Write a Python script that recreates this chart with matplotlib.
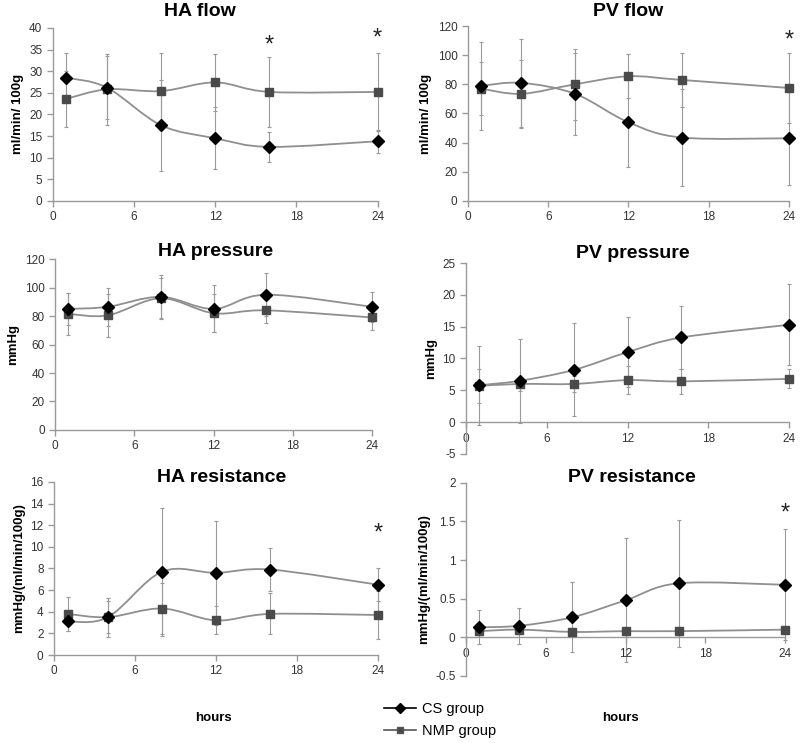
import matplotlib
matplotlib.use("Agg")
import matplotlib.pyplot as plt
import numpy as np
from matplotlib.path import Path
from matplotlib.patches import PathPatch
from matplotlib.lines import Line2D

plt.rcParams["font.family"] = ["Liberation Sans", "DejaVu Sans"]

hours = [1, 4, 8, 12, 16, 24]

ha_flow_cs = [28.5, 26.2, 17.5, 14.5, 12.5, 13.8]
ha_flow_cs_sd = [5.7, 7.3, 10.5, 7.2, 3.5, 2.6]
ha_flow_nmp = [23.6, 25.8, 25.4, 27.4, 25.2, 25.2]
ha_flow_nmp_sd = [6.4, 8.2, 8.9, 6.6, 8.0, 9.1]

pv_flow_cs = [79, 81, 73.5, 54, 43.5, 43]
pv_flow_cs_sd = [30, 30, 28, 31, 33, 32]
pv_flow_nmp = [77, 73.5, 80, 85.5, 83, 77.5]
pv_flow_nmp_sd = [18, 23.5, 24.5, 15, 18.5, 24]

ha_pres_cs = [85, 86.5, 93.5, 85, 95, 86.5]
ha_pres_cs_sd = [11, 13.5, 15.5, 16.5, 15, 10.5]
ha_pres_nmp = [81.5, 80.5, 92.5, 82, 84, 79]
ha_pres_nmp_sd = [14.5, 15, 14, 13.5, 9, 9]

pv_pres_cs = [5.8, 6.5, 8.2, 11, 13.3, 15.3]
pv_pres_cs_sd = [6.2, 6.6, 7.3, 5.5, 5.0, 6.4]
pv_pres_nmp = [5.7, 6.0, 6.0, 6.6, 6.4, 6.8]
pv_pres_nmp_sd = [2.7, 1.1, 1.3, 2.2, 1.9, 1.5]

ha_res_cs = [3.1, 3.5, 7.7, 7.6, 7.9, 6.5]
ha_res_cs_sd = [0.9, 1.5, 5.9, 4.8, 2.0, 1.5]
ha_res_nmp = [3.8, 3.5, 4.3, 3.2, 3.8, 3.7]
ha_res_nmp_sd = [1.6, 1.8, 2.4, 1.3, 1.9, 2.2]

pv_res_cs = [0.13, 0.15, 0.26, 0.48, 0.70, 0.68]
pv_res_cs_sd = [0.22, 0.23, 0.45, 0.80, 0.82, 0.72]
pv_res_nmp = [0.08, 0.10, 0.07, 0.08, 0.08, 0.10]
pv_res_nmp_sd = [0.05, 0.05, 0.05, 0.05, 0.05, 0.05]

LINE = "#8f8f8f"
CS_C = "black"
NMP_C = "#4a4a4a"
AX_C = "#9a9a9a"
TXT = "#333333"


def smooth_line(ax, x, y):
    # excel-style smoothed line as bezier path
    n = len(x)
    verts = [(x[0], y[0])]
    codes = [Path.MOVETO]
    for i in range(n - 1):
        x0, y0 = (x[i - 1], y[i - 1]) if i > 0 else (x[i], y[i])
        x3, y3 = (x[i + 2], y[i + 2]) if i + 2 < n else (x[i + 1], y[i + 1])
        c1 = (x[i] + (x[i + 1] - x0) / 6, y[i] + (y[i + 1] - y0) / 6)
        c2 = (x[i + 1] - (x3 - x[i]) / 6, y[i + 1] - (y3 - y[i]) / 6)
        verts += [c1, c2, (x[i + 1], y[i + 1])]
        codes += [Path.CURVE4] * 3
    ax.add_patch(PathPatch(Path(verts, codes), fill=False, edgecolor=LINE,
                           lw=1.3, zorder=2, clip_on=False))


def panel(rect, cs, cs_sd, nmp, nmp_sd, ylim, yticks, ylabel, title, title_xy,
          zero_axis=False, stars=()):
    ax = fig.add_axes(rect)
    ax.errorbar(hours, nmp, yerr=nmp_sd, fmt="none", ecolor=AX_C, elinewidth=0.8,
                capsize=1.5, capthick=0.8, zorder=1, clip_on=False)
    ax.errorbar(hours, cs, yerr=cs_sd, fmt="none", ecolor=AX_C, elinewidth=0.8,
                capsize=1.5, capthick=0.8, zorder=1, clip_on=False)
    smooth_line(ax, hours, nmp)
    smooth_line(ax, hours, cs)
    ax.plot(hours, nmp, ls="none", marker="s", ms=5.5, color=NMP_C, zorder=3, clip_on=False)
    ax.plot(hours, cs, ls="none", marker="D", ms=6, color=CS_C, zorder=4, clip_on=False)
    for sx, sy in stars:
        ax.text(sx, sy, "*", ha="center", va="center", fontsize=17, color="#222222")
    ax.set_xlim(0, 24)
    ax.set_xticks([0, 6, 12, 18, 24])
    ax.set_ylim(*ylim)
    ax.set_yticks(yticks)
    ax.set_yticklabels([f"{t:g}" for t in yticks])
    for s in ["top", "right"]:
        ax.spines[s].set_visible(False)
    for s in ["left", "bottom"]:
        ax.spines[s].set_color(AX_C)
        ax.spines[s].set_linewidth(1.0)
    if zero_axis:
        ax.spines["bottom"].set_position(("data", 0))
    ax.tick_params(colors=AX_C, labelcolor=TXT, labelsize=8.5, length=4, width=1.0)
    ax.set_ylabel(ylabel, fontsize=9.5, fontweight="bold", color="black", labelpad=4)
    fig.text(title_xy[0] / 800, 1 - title_xy[1] / 743, title, ha="center", va="center",
             fontsize=14, fontweight="bold")
    return ax


fig = plt.figure(figsize=(8, 7.43), dpi=100)

panel([0.066, 0.7295, 0.406, 0.233], ha_flow_cs, ha_flow_cs_sd, ha_flow_nmp, ha_flow_nmp_sd,
      (0, 40), list(range(0, 41, 5)), "ml/min/ 100g", "HA flow", (200, 12),
      stars=[(16, 36), (24, 37.5)])
panel([0.585, 0.7295, 0.401, 0.2355], pv_flow_cs, pv_flow_cs_sd, pv_flow_nmp, pv_flow_nmp_sd,
      (0, 120), list(range(0, 121, 20)), "ml/min/ 100g", "PV flow", (628, 12),
      stars=[(24, 110)])
panel([0.069, 0.4213, 0.396, 0.230], ha_pres_cs, ha_pres_cs_sd, ha_pres_nmp, ha_pres_nmp_sd,
      (0, 120), list(range(0, 121, 20)), "mmHg", "HA pressure", (216, 252))
panel([0.5825, 0.389, 0.404, 0.257], pv_pres_cs, pv_pres_cs_sd, pv_pres_nmp, pv_pres_nmp_sd,
      (-5, 25), list(range(-5, 26, 5)), "mmHg", "PV pressure", (633, 253), zero_axis=True)
panel([0.0675, 0.1184, 0.405, 0.233], ha_res_cs, ha_res_cs_sd, ha_res_nmp, ha_res_nmp_sd,
      (0, 16), list(range(0, 17, 2)), "mmHg/(ml/min/100g)", "HA resistance", (222, 478),
      stars=[(24, 11.2)])
panel([0.5825, 0.0902, 0.399, 0.26], pv_res_cs, pv_res_cs_sd, pv_res_nmp, pv_res_nmp_sd,
      (-0.5, 2), [-0.5, 0, 0.5, 1, 1.5, 2], "mmHg/(ml/min/100g)", "PV resistance", (632, 478),
      zero_axis=True, stars=[(24, 1.6)])

fig.text(213 / 800, 1 - 718 / 743, "hours", ha="center", va="center", fontsize=9.5,
         fontweight="bold")
fig.text(620 / 800, 1 - 718 / 743, "hours", ha="center", va="center", fontsize=9.5,
         fontweight="bold")

handles = [
    Line2D([], [], color="black", lw=1.2, marker="D", ms=5, markerfacecolor=CS_C),
    Line2D([], [], color="#555555", lw=1.2, marker="s", ms=5, markerfacecolor=NMP_C),
]
fig.legend(handles, ["CS group", "NMP group"], loc="center", bbox_to_anchor=(0.55, 0.031),
           frameon=False, fontsize=10.5, handlelength=2.2, handletextpad=0.4,
           labelspacing=0.5)

fig.savefig("out.png", dpi=100)
